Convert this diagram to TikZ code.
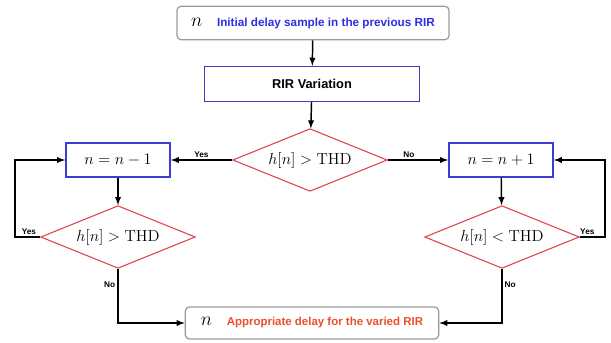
\documentclass[tikz,border=0pt]{standalone}
\usepackage{amsmath}
\usepackage{fontspec}
\setsansfont{Liberation Sans}
\usetikzlibrary{shapes.geometric,arrows}
\definecolor{boxblue}{RGB}{60,60,205}
\definecolor{testred}{RGB}{225,65,75}
\definecolor{txtblue}{RGB}{45,45,225}
\definecolor{txtred}{RGB}{235,80,45}

\begin{document}
\begin{tikzpicture}[x=0.75pt,y=-0.75pt,
    term/.style={draw=black!40,rounded corners=3pt,line width=0.9pt,inner sep=0pt},
    proc/.style={draw=boxblue,line width=1.2pt,inner sep=0pt},
    test/.style={draw=testred,line width=0.8pt,diamond,aspect=2.46,inner sep=0pt,
      minimum width=116pt,minimum height=47pt},
    flow/.style={-latex,line width=1.1pt},
    lbl/.style={font=\sffamily\bfseries\fontsize{6.2}{7}\selectfont,inner sep=1.5pt}]

    \useasboundingbox (0,0) rectangle (611,343);

    % start and end
    \node[term,minimum width=204pt,minimum height=25pt] (start) at (313,23)
      {{\Large$n$}\hspace{11pt}{\color{txtblue}\sffamily\bfseries\fontsize{8.8}{10}\selectfont Initial delay sample in the previous RIR}};
    \node[term,minimum width=190pt,minimum height=24pt] (out) at (312,323)
      {{\Large$n$}\hspace{11pt}{\color{txtred}\sffamily\bfseries\fontsize{8.6}{10}\selectfont Appropriate delay for the varied RIR}};

    % process boxes
    \node[proc,minimum width=161pt,minimum height=26pt,font=\sffamily\bfseries\fontsize{9.6}{11}\selectfont] (var) at (312,84) {RIR Variation};
    \node[proc,minimum width=78pt,minimum height=25.5pt] (dec) at (118,160) {\large$n=n-1$};
    \node[proc,minimum width=78pt,minimum height=25.5pt] (inc) at (501,160) {\large$n=n+1$};

    % tests
    \node[test] (t0) at (310,160) {\large$h[n]>\mathrm{THD}$};
    \node[test] (t1) at (118,237) {\large$h[n]>\mathrm{THD}$};
    \node[test] (t2) at (502,237) {\large$h[n]<\mathrm{THD}$};

    \draw[flow] (start) -- (var);
    \draw[flow] (var) -- (t0);
    \draw[flow] (t0) -- (dec) node[midway,above,lbl]{Yes};
    \draw[flow] (t0) -- (inc) node[pos=0.35,above,lbl]{No};
    \draw[flow] (dec) -- (t1);
    \draw[flow] (inc) -- (t2);

    % loops
    \draw[flow] (t1.west) -- ++(-25,0) node[pos=0.45,above,lbl]{Yes} |- (dec.west);
    \draw[flow] (t2.east) -- ++(25,0) node[pos=0.3,above,lbl]{Yes} |- (inc.east);
    \draw[flow] (t1.south) |- (out.west) node[pos=0.15,left,lbl]{No};
    \draw[flow] (t2.south) |- (out.east) node[pos=0.15,right,lbl]{No};
\end{tikzpicture}
\end{document}
